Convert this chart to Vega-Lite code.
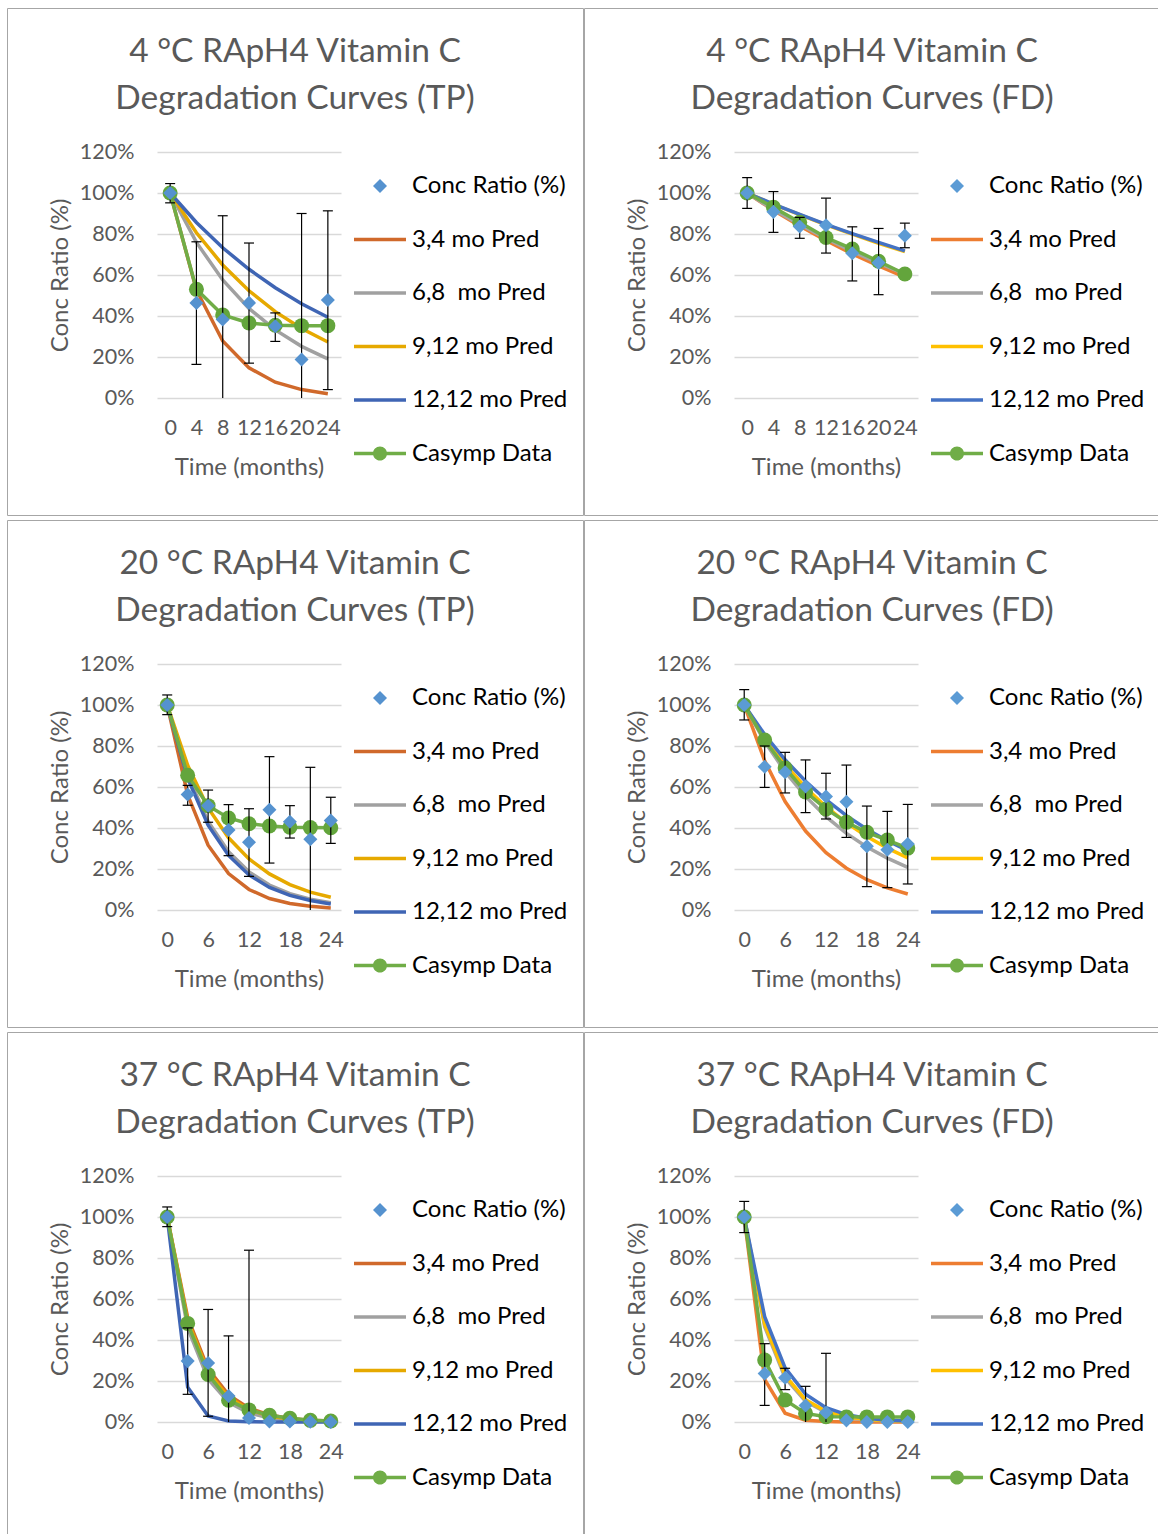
{
  "$schema": "https://vega.github.io/schema/vega-lite/v6.json",
  "background": "white",
  "padding": {"left": 6, "top": 7, "right": 0, "bottom": 0},
  "datasets": {
    "d": [
      {"p":"4TP","s":"3,4 mo Pred","t":0,"v":1},{"p":"4TP","s":"3,4 mo Pred","t":4,"v":0.527},{"p":"4TP","s":"3,4 mo Pred","t":8,"v":0.278},{"p":"4TP","s":"3,4 mo Pred","t":12,"v":0.147},{"p":"4TP","s":"3,4 mo Pred","t":16,"v":0.077},{"p":"4TP","s":"3,4 mo Pred","t":20,"v":0.041},{"p":"4TP","s":"3,4 mo Pred","t":24,"v":0.021},
      {"p":"4TP","s":"6,8\u00a0 mo Pred","t":0,"v":1},{"p":"4TP","s":"6,8\u00a0 mo Pred","t":4,"v":0.759},{"p":"4TP","s":"6,8\u00a0 mo Pred","t":8,"v":0.576},{"p":"4TP","s":"6,8\u00a0 mo Pred","t":12,"v":0.437},{"p":"4TP","s":"6,8\u00a0 mo Pred","t":16,"v":0.332},{"p":"4TP","s":"6,8\u00a0 mo Pred","t":20,"v":0.252},{"p":"4TP","s":"6,8\u00a0 mo Pred","t":24,"v":0.191},
      {"p":"4TP","s":"9,12 mo Pred","t":0,"v":1},{"p":"4TP","s":"9,12 mo Pred","t":4,"v":0.806},{"p":"4TP","s":"9,12 mo Pred","t":8,"v":0.649},{"p":"4TP","s":"9,12 mo Pred","t":12,"v":0.523},{"p":"4TP","s":"9,12 mo Pred","t":16,"v":0.421},{"p":"4TP","s":"9,12 mo Pred","t":20,"v":0.339},{"p":"4TP","s":"9,12 mo Pred","t":24,"v":0.273},
      {"p":"4TP","s":"12,12 mo Pred","t":0,"v":1},{"p":"4TP","s":"12,12 mo Pred","t":4,"v":0.856},{"p":"4TP","s":"12,12 mo Pred","t":8,"v":0.733},{"p":"4TP","s":"12,12 mo Pred","t":12,"v":0.628},{"p":"4TP","s":"12,12 mo Pred","t":16,"v":0.538},{"p":"4TP","s":"12,12 mo Pred","t":20,"v":0.46},{"p":"4TP","s":"12,12 mo Pred","t":24,"v":0.394},
      {"p":"4TP","s":"Casymp Data","t":0,"v":1},{"p":"4TP","s":"Casymp Data","t":4,"v":0.53},{"p":"4TP","s":"Casymp Data","t":8,"v":0.405},{"p":"4TP","s":"Casymp Data","t":12,"v":0.366},{"p":"4TP","s":"Casymp Data","t":16,"v":0.355},{"p":"4TP","s":"Casymp Data","t":20,"v":0.353},{"p":"4TP","s":"Casymp Data","t":24,"v":0.353},
      {"p":"4TP","s":"Conc Ratio (%)","t":0,"v":1,"lo":0.952,"hi":1.046},{"p":"4TP","s":"Conc Ratio (%)","t":4,"v":0.464,"lo":0.164,"hi":0.762},{"p":"4TP","s":"Conc Ratio (%)","t":8,"v":0.383,"lo":0,"hi":0.889},{"p":"4TP","s":"Conc Ratio (%)","t":12,"v":0.464,"lo":0.17,"hi":0.756},{"p":"4TP","s":"Conc Ratio (%)","t":16,"v":0.35,"lo":0.276,"hi":0.415},{"p":"4TP","s":"Conc Ratio (%)","t":20,"v":0.188,"lo":0,"hi":0.9},{"p":"4TP","s":"Conc Ratio (%)","t":24,"v":0.478,"lo":0.041,"hi":0.913},

      {"p":"4FD","s":"3,4 mo Pred","t":0,"v":1},{"p":"4FD","s":"3,4 mo Pred","t":4,"v":0.916},{"p":"4FD","s":"3,4 mo Pred","t":8,"v":0.839},{"p":"4FD","s":"3,4 mo Pred","t":12,"v":0.768},{"p":"4FD","s":"3,4 mo Pred","t":16,"v":0.703},{"p":"4FD","s":"3,4 mo Pred","t":20,"v":0.644},{"p":"4FD","s":"3,4 mo Pred","t":24,"v":0.589},
      {"p":"4FD","s":"6,8\u00a0 mo Pred","t":0,"v":1},{"p":"4FD","s":"6,8\u00a0 mo Pred","t":4,"v":0.919},{"p":"4FD","s":"6,8\u00a0 mo Pred","t":8,"v":0.846},{"p":"4FD","s":"6,8\u00a0 mo Pred","t":12,"v":0.778},{"p":"4FD","s":"6,8\u00a0 mo Pred","t":16,"v":0.715},{"p":"4FD","s":"6,8\u00a0 mo Pred","t":20,"v":0.658},{"p":"4FD","s":"6,8\u00a0 mo Pred","t":24,"v":0.605},
      {"p":"4FD","s":"9,12 mo Pred","t":0,"v":1},{"p":"4FD","s":"9,12 mo Pred","t":4,"v":0.945},{"p":"4FD","s":"9,12 mo Pred","t":8,"v":0.894},{"p":"4FD","s":"9,12 mo Pred","t":12,"v":0.845},{"p":"4FD","s":"9,12 mo Pred","t":16,"v":0.799},{"p":"4FD","s":"9,12 mo Pred","t":20,"v":0.755},{"p":"4FD","s":"9,12 mo Pred","t":24,"v":0.714},
      {"p":"4FD","s":"12,12 mo Pred","t":0,"v":1},{"p":"4FD","s":"12,12 mo Pred","t":4,"v":0.946},{"p":"4FD","s":"12,12 mo Pred","t":8,"v":0.896},{"p":"4FD","s":"12,12 mo Pred","t":12,"v":0.847},{"p":"4FD","s":"12,12 mo Pred","t":16,"v":0.802},{"p":"4FD","s":"12,12 mo Pred","t":20,"v":0.759},{"p":"4FD","s":"12,12 mo Pred","t":24,"v":0.718},
      {"p":"4FD","s":"Casymp Data","t":0,"v":1},{"p":"4FD","s":"Casymp Data","t":4,"v":0.93},{"p":"4FD","s":"Casymp Data","t":8,"v":0.857},{"p":"4FD","s":"Casymp Data","t":12,"v":0.783},{"p":"4FD","s":"Casymp Data","t":16,"v":0.727},{"p":"4FD","s":"Casymp Data","t":20,"v":0.667},{"p":"4FD","s":"Casymp Data","t":24,"v":0.605},
      {"p":"4FD","s":"Conc Ratio (%)","t":0,"v":1,"lo":0.925,"hi":1.075},{"p":"4FD","s":"Conc Ratio (%)","t":4,"v":0.908,"lo":0.808,"hi":1.007},{"p":"4FD","s":"Conc Ratio (%)","t":8,"v":0.837,"lo":0.779,"hi":0.881},{"p":"4FD","s":"Conc Ratio (%)","t":12,"v":0.843,"lo":0.707,"hi":0.975},{"p":"4FD","s":"Conc Ratio (%)","t":16,"v":0.706,"lo":0.571,"hi":0.835},{"p":"4FD","s":"Conc Ratio (%)","t":20,"v":0.66,"lo":0.504,"hi":0.827},{"p":"4FD","s":"Conc Ratio (%)","t":24,"v":0.792,"lo":0.733,"hi":0.853},

      {"p":"20TP","s":"3,4 mo Pred","t":0,"v":1},{"p":"20TP","s":"3,4 mo Pred","t":3,"v":0.562},{"p":"20TP","s":"3,4 mo Pred","t":6,"v":0.316},{"p":"20TP","s":"3,4 mo Pred","t":9,"v":0.178},{"p":"20TP","s":"3,4 mo Pred","t":12,"v":0.1},{"p":"20TP","s":"3,4 mo Pred","t":15,"v":0.056},{"p":"20TP","s":"3,4 mo Pred","t":18,"v":0.032},{"p":"20TP","s":"3,4 mo Pred","t":21,"v":0.018},{"p":"20TP","s":"3,4 mo Pred","t":24,"v":0.01},
      {"p":"20TP","s":"6,8\u00a0 mo Pred","t":0,"v":1},{"p":"20TP","s":"6,8\u00a0 mo Pred","t":3,"v":0.657},{"p":"20TP","s":"6,8\u00a0 mo Pred","t":6,"v":0.432},{"p":"20TP","s":"6,8\u00a0 mo Pred","t":9,"v":0.284},{"p":"20TP","s":"6,8\u00a0 mo Pred","t":12,"v":0.186},{"p":"20TP","s":"6,8\u00a0 mo Pred","t":15,"v":0.122},{"p":"20TP","s":"6,8\u00a0 mo Pred","t":18,"v":0.08},{"p":"20TP","s":"6,8\u00a0 mo Pred","t":21,"v":0.053},{"p":"20TP","s":"6,8\u00a0 mo Pred","t":24,"v":0.035},
      {"p":"20TP","s":"9,12 mo Pred","t":0,"v":1},{"p":"20TP","s":"9,12 mo Pred","t":3,"v":0.706},{"p":"20TP","s":"9,12 mo Pred","t":6,"v":0.498},{"p":"20TP","s":"9,12 mo Pred","t":9,"v":0.352},{"p":"20TP","s":"9,12 mo Pred","t":12,"v":0.249},{"p":"20TP","s":"9,12 mo Pred","t":15,"v":0.176},{"p":"20TP","s":"9,12 mo Pred","t":18,"v":0.124},{"p":"20TP","s":"9,12 mo Pred","t":21,"v":0.087},{"p":"20TP","s":"9,12 mo Pred","t":24,"v":0.062},
      {"p":"20TP","s":"12,12 mo Pred","t":0,"v":1},{"p":"20TP","s":"12,12 mo Pred","t":3,"v":0.643},{"p":"20TP","s":"12,12 mo Pred","t":6,"v":0.414},{"p":"20TP","s":"12,12 mo Pred","t":9,"v":0.266},{"p":"20TP","s":"12,12 mo Pred","t":12,"v":0.171},{"p":"20TP","s":"12,12 mo Pred","t":15,"v":0.11},{"p":"20TP","s":"12,12 mo Pred","t":18,"v":0.071},{"p":"20TP","s":"12,12 mo Pred","t":21,"v":0.046},{"p":"20TP","s":"12,12 mo Pred","t":24,"v":0.029},
      {"p":"20TP","s":"Casymp Data","t":0,"v":1},{"p":"20TP","s":"Casymp Data","t":3,"v":0.657},{"p":"20TP","s":"Casymp Data","t":6,"v":0.509},{"p":"20TP","s":"Casymp Data","t":9,"v":0.449},{"p":"20TP","s":"Casymp Data","t":12,"v":0.421},{"p":"20TP","s":"Casymp Data","t":15,"v":0.41},{"p":"20TP","s":"Casymp Data","t":18,"v":0.404},{"p":"20TP","s":"Casymp Data","t":21,"v":0.402},{"p":"20TP","s":"Casymp Data","t":24,"v":0.401},
      {"p":"20TP","s":"Conc Ratio (%)","t":0,"v":1,"lo":0.953,"hi":1.049},{"p":"20TP","s":"Conc Ratio (%)","t":3,"v":0.563,"lo":0.511,"hi":0.608},{"p":"20TP","s":"Conc Ratio (%)","t":6,"v":0.509,"lo":0.428,"hi":0.585},{"p":"20TP","s":"Conc Ratio (%)","t":9,"v":0.39,"lo":0.265,"hi":0.514},{"p":"20TP","s":"Conc Ratio (%)","t":12,"v":0.33,"lo":0.164,"hi":0.494},{"p":"20TP","s":"Conc Ratio (%)","t":15,"v":0.489,"lo":0.229,"hi":0.748},{"p":"20TP","s":"Conc Ratio (%)","t":18,"v":0.431,"lo":0.351,"hi":0.509},{"p":"20TP","s":"Conc Ratio (%)","t":21,"v":0.345,"lo":0,"hi":0.696},{"p":"20TP","s":"Conc Ratio (%)","t":24,"v":0.436,"lo":0.325,"hi":0.55},

      {"p":"20FD","s":"3,4 mo Pred","t":0,"v":1},{"p":"20FD","s":"3,4 mo Pred","t":3,"v":0.728},{"p":"20FD","s":"3,4 mo Pred","t":6,"v":0.529},{"p":"20FD","s":"3,4 mo Pred","t":9,"v":0.385},{"p":"20FD","s":"3,4 mo Pred","t":12,"v":0.28},{"p":"20FD","s":"3,4 mo Pred","t":15,"v":0.204},{"p":"20FD","s":"3,4 mo Pred","t":18,"v":0.148},{"p":"20FD","s":"3,4 mo Pred","t":21,"v":0.108},{"p":"20FD","s":"3,4 mo Pred","t":24,"v":0.078},
      {"p":"20FD","s":"6,8\u00a0 mo Pred","t":0,"v":1},{"p":"20FD","s":"6,8\u00a0 mo Pred","t":3,"v":0.821},{"p":"20FD","s":"6,8\u00a0 mo Pred","t":6,"v":0.675},{"p":"20FD","s":"6,8\u00a0 mo Pred","t":9,"v":0.554},{"p":"20FD","s":"6,8\u00a0 mo Pred","t":12,"v":0.455},{"p":"20FD","s":"6,8\u00a0 mo Pred","t":15,"v":0.374},{"p":"20FD","s":"6,8\u00a0 mo Pred","t":18,"v":0.307},{"p":"20FD","s":"6,8\u00a0 mo Pred","t":21,"v":0.253},{"p":"20FD","s":"6,8\u00a0 mo Pred","t":24,"v":0.208},
      {"p":"20FD","s":"9,12 mo Pred","t":0,"v":1},{"p":"20FD","s":"9,12 mo Pred","t":3,"v":0.843},{"p":"20FD","s":"9,12 mo Pred","t":6,"v":0.71},{"p":"20FD","s":"9,12 mo Pred","t":9,"v":0.598},{"p":"20FD","s":"9,12 mo Pred","t":12,"v":0.504},{"p":"20FD","s":"9,12 mo Pred","t":15,"v":0.425},{"p":"20FD","s":"9,12 mo Pred","t":18,"v":0.358},{"p":"20FD","s":"9,12 mo Pred","t":21,"v":0.302},{"p":"20FD","s":"9,12 mo Pred","t":24,"v":0.254},
      {"p":"20FD","s":"12,12 mo Pred","t":0,"v":1},{"p":"20FD","s":"12,12 mo Pred","t":3,"v":0.856},{"p":"20FD","s":"12,12 mo Pred","t":6,"v":0.733},{"p":"20FD","s":"12,12 mo Pred","t":9,"v":0.628},{"p":"20FD","s":"12,12 mo Pred","t":12,"v":0.538},{"p":"20FD","s":"12,12 mo Pred","t":15,"v":0.46},{"p":"20FD","s":"12,12 mo Pred","t":18,"v":0.394},{"p":"20FD","s":"12,12 mo Pred","t":21,"v":0.338},{"p":"20FD","s":"12,12 mo Pred","t":24,"v":0.289},
      {"p":"20FD","s":"Casymp Data","t":0,"v":1},{"p":"20FD","s":"Casymp Data","t":3,"v":0.829},{"p":"20FD","s":"Casymp Data","t":6,"v":0.693},{"p":"20FD","s":"Casymp Data","t":9,"v":0.576},{"p":"20FD","s":"Casymp Data","t":12,"v":0.493},{"p":"20FD","s":"Casymp Data","t":15,"v":0.428},{"p":"20FD","s":"Casymp Data","t":18,"v":0.379},{"p":"20FD","s":"Casymp Data","t":21,"v":0.341},{"p":"20FD","s":"Casymp Data","t":24,"v":0.302},
      {"p":"20FD","s":"Conc Ratio (%)","t":0,"v":1,"lo":0.927,"hi":1.075},{"p":"20FD","s":"Conc Ratio (%)","t":3,"v":0.699,"lo":0.598,"hi":0.8},{"p":"20FD","s":"Conc Ratio (%)","t":6,"v":0.672,"lo":0.571,"hi":0.769},{"p":"20FD","s":"Conc Ratio (%)","t":9,"v":0.603,"lo":0.475,"hi":0.732},{"p":"20FD","s":"Conc Ratio (%)","t":12,"v":0.554,"lo":0.444,"hi":0.667},{"p":"20FD","s":"Conc Ratio (%)","t":15,"v":0.528,"lo":0.354,"hi":0.707},{"p":"20FD","s":"Conc Ratio (%)","t":18,"v":0.311,"lo":0.114,"hi":0.507},{"p":"20FD","s":"Conc Ratio (%)","t":21,"v":0.294,"lo":0.109,"hi":0.481},{"p":"20FD","s":"Conc Ratio (%)","t":24,"v":0.322,"lo":0.127,"hi":0.515},

      {"p":"37TP","s":"3,4 mo Pred","t":0,"v":1},{"p":"37TP","s":"3,4 mo Pred","t":3,"v":0.509},{"p":"37TP","s":"3,4 mo Pred","t":6,"v":0.259},{"p":"37TP","s":"3,4 mo Pred","t":9,"v":0.132},{"p":"37TP","s":"3,4 mo Pred","t":12,"v":0.067},{"p":"37TP","s":"3,4 mo Pred","t":15,"v":0.034},{"p":"37TP","s":"3,4 mo Pred","t":18,"v":0.017},{"p":"37TP","s":"3,4 mo Pred","t":21,"v":0.009},{"p":"37TP","s":"3,4 mo Pred","t":24,"v":0.005},
      {"p":"37TP","s":"6,8\u00a0 mo Pred","t":0,"v":1},{"p":"37TP","s":"6,8\u00a0 mo Pred","t":3,"v":0.458},{"p":"37TP","s":"6,8\u00a0 mo Pred","t":6,"v":0.21},{"p":"37TP","s":"6,8\u00a0 mo Pred","t":9,"v":0.096},{"p":"37TP","s":"6,8\u00a0 mo Pred","t":12,"v":0.044},{"p":"37TP","s":"6,8\u00a0 mo Pred","t":15,"v":0.02},{"p":"37TP","s":"6,8\u00a0 mo Pred","t":18,"v":0.009},{"p":"37TP","s":"6,8\u00a0 mo Pred","t":21,"v":0.004},{"p":"37TP","s":"6,8\u00a0 mo Pred","t":24,"v":0.002},
      {"p":"37TP","s":"9,12 mo Pred","t":0,"v":1},{"p":"37TP","s":"9,12 mo Pred","t":3,"v":0.494},{"p":"37TP","s":"9,12 mo Pred","t":6,"v":0.244},{"p":"37TP","s":"9,12 mo Pred","t":9,"v":0.121},{"p":"37TP","s":"9,12 mo Pred","t":12,"v":0.06},{"p":"37TP","s":"9,12 mo Pred","t":15,"v":0.029},{"p":"37TP","s":"9,12 mo Pred","t":18,"v":0.015},{"p":"37TP","s":"9,12 mo Pred","t":21,"v":0.007},{"p":"37TP","s":"9,12 mo Pred","t":24,"v":0.004},
      {"p":"37TP","s":"12,12 mo Pred","t":0,"v":1},{"p":"37TP","s":"12,12 mo Pred","t":3,"v":0.17},{"p":"37TP","s":"12,12 mo Pred","t":6,"v":0.029},{"p":"37TP","s":"12,12 mo Pred","t":9,"v":0.005},{"p":"37TP","s":"12,12 mo Pred","t":12,"v":0.001},{"p":"37TP","s":"12,12 mo Pred","t":15,"v":0},{"p":"37TP","s":"12,12 mo Pred","t":18,"v":0},{"p":"37TP","s":"12,12 mo Pred","t":21,"v":0},{"p":"37TP","s":"12,12 mo Pred","t":24,"v":0},
      {"p":"37TP","s":"Casymp Data","t":0,"v":1},{"p":"37TP","s":"Casymp Data","t":3,"v":0.481},{"p":"37TP","s":"Casymp Data","t":6,"v":0.232},{"p":"37TP","s":"Casymp Data","t":9,"v":0.106},{"p":"37TP","s":"Casymp Data","t":12,"v":0.059},{"p":"37TP","s":"Casymp Data","t":15,"v":0.033},{"p":"37TP","s":"Casymp Data","t":18,"v":0.018},{"p":"37TP","s":"Casymp Data","t":21,"v":0.008},{"p":"37TP","s":"Casymp Data","t":24,"v":0.005},
      {"p":"37TP","s":"Conc Ratio (%)","t":0,"v":1,"lo":0.953,"hi":1.049},{"p":"37TP","s":"Conc Ratio (%)","t":3,"v":0.297,"lo":0.135,"hi":0.459},{"p":"37TP","s":"Conc Ratio (%)","t":6,"v":0.288,"lo":0.028,"hi":0.549},{"p":"37TP","s":"Conc Ratio (%)","t":9,"v":0.127,"lo":0,"hi":0.42},{"p":"37TP","s":"Conc Ratio (%)","t":12,"v":0.02,"lo":0,"hi":0.838},{"p":"37TP","s":"Conc Ratio (%)","t":15,"v":0.002},{"p":"37TP","s":"Conc Ratio (%)","t":18,"v":0.002},{"p":"37TP","s":"Conc Ratio (%)","t":21,"v":0.001},{"p":"37TP","s":"Conc Ratio (%)","t":24,"v":0},

      {"p":"37FD","s":"3,4 mo Pred","t":0,"v":1},{"p":"37FD","s":"3,4 mo Pred","t":3,"v":0.208},{"p":"37FD","s":"3,4 mo Pred","t":6,"v":0.043},{"p":"37FD","s":"3,4 mo Pred","t":9,"v":0.009},{"p":"37FD","s":"3,4 mo Pred","t":12,"v":0.002},{"p":"37FD","s":"3,4 mo Pred","t":15,"v":0},{"p":"37FD","s":"3,4 mo Pred","t":18,"v":0},{"p":"37FD","s":"3,4 mo Pred","t":21,"v":0},{"p":"37FD","s":"3,4 mo Pred","t":24,"v":0},
      {"p":"37FD","s":"6,8\u00a0 mo Pred","t":0,"v":1},{"p":"37FD","s":"6,8\u00a0 mo Pred","t":3,"v":0.465},{"p":"37FD","s":"6,8\u00a0 mo Pred","t":6,"v":0.216},{"p":"37FD","s":"6,8\u00a0 mo Pred","t":9,"v":0.101},{"p":"37FD","s":"6,8\u00a0 mo Pred","t":12,"v":0.047},{"p":"37FD","s":"6,8\u00a0 mo Pred","t":15,"v":0.022},{"p":"37FD","s":"6,8\u00a0 mo Pred","t":18,"v":0.01},{"p":"37FD","s":"6,8\u00a0 mo Pred","t":21,"v":0.005},{"p":"37FD","s":"6,8\u00a0 mo Pred","t":24,"v":0.002},
      {"p":"37FD","s":"9,12 mo Pred","t":0,"v":1},{"p":"37FD","s":"9,12 mo Pred","t":3,"v":0.477},{"p":"37FD","s":"9,12 mo Pred","t":6,"v":0.227},{"p":"37FD","s":"9,12 mo Pred","t":9,"v":0.108},{"p":"37FD","s":"9,12 mo Pred","t":12,"v":0.052},{"p":"37FD","s":"9,12 mo Pred","t":15,"v":0.025},{"p":"37FD","s":"9,12 mo Pred","t":18,"v":0.012},{"p":"37FD","s":"9,12 mo Pred","t":21,"v":0.006},{"p":"37FD","s":"9,12 mo Pred","t":24,"v":0.003},
      {"p":"37FD","s":"12,12 mo Pred","t":0,"v":1},{"p":"37FD","s":"12,12 mo Pred","t":3,"v":0.514},{"p":"37FD","s":"12,12 mo Pred","t":6,"v":0.264},{"p":"37FD","s":"12,12 mo Pred","t":9,"v":0.136},{"p":"37FD","s":"12,12 mo Pred","t":12,"v":0.07},{"p":"37FD","s":"12,12 mo Pred","t":15,"v":0.036},{"p":"37FD","s":"12,12 mo Pred","t":18,"v":0.018},{"p":"37FD","s":"12,12 mo Pred","t":21,"v":0.009},{"p":"37FD","s":"12,12 mo Pred","t":24,"v":0.005},
      {"p":"37FD","s":"Casymp Data","t":0,"v":1},{"p":"37FD","s":"Casymp Data","t":3,"v":0.302},{"p":"37FD","s":"Casymp Data","t":6,"v":0.107},{"p":"37FD","s":"Casymp Data","t":9,"v":0.042},{"p":"37FD","s":"Casymp Data","t":12,"v":0.026},{"p":"37FD","s":"Casymp Data","t":15,"v":0.025},{"p":"37FD","s":"Casymp Data","t":18,"v":0.025},{"p":"37FD","s":"Casymp Data","t":21,"v":0.025},{"p":"37FD","s":"Casymp Data","t":24,"v":0.025},
      {"p":"37FD","s":"Conc Ratio (%)","t":0,"v":1,"lo":0.924,"hi":1.076},{"p":"37FD","s":"Conc Ratio (%)","t":3,"v":0.236,"lo":0.081,"hi":0.382},{"p":"37FD","s":"Conc Ratio (%)","t":6,"v":0.216,"lo":0.158,"hi":0.262},{"p":"37FD","s":"Conc Ratio (%)","t":9,"v":0.081,"lo":0,"hi":0.174},{"p":"37FD","s":"Conc Ratio (%)","t":12,"v":0.046,"lo":0,"hi":0.335},{"p":"37FD","s":"Conc Ratio (%)","t":15,"v":0.008},{"p":"37FD","s":"Conc Ratio (%)","t":18,"v":0},{"p":"37FD","s":"Conc Ratio (%)","t":21,"v":0},{"p":"37FD","s":"Conc Ratio (%)","t":24,"v":0}
    ]
  },
  "data": {"name": "d"},
  "columns": 2,
  "spacing": {"row": 3, "column": -2},
  "resolve": {
    "scale": {"x": "independent", "y": "independent", "color": "independent", "shape": "independent"},
    "legend": {"color": "independent", "shape": "independent"}
  },
  "concat": [
    {
      "width": 576, "height": 507,
      "title": {"text": ["4 °C RApH4 Vitamin C", "Degradation Curves (TP)"]},
      "transform": [{"filter": "datum.p == '4TP'"}],
      "encoding": {
        "x": {"field": "t", "type": "quantitative", "scale": {"domain": [-2, 26], "range": [150, 334], "nice": false, "zero": false}, "axis": {"values": [0, 4, 8, 12, 16, 20, 24], "title": "Time (months)", "offset": -117, "grid": false, "labelPadding": 19, "titlePadding": 17}},
        "y": {"field": "v", "type": "quantitative", "scale": {"domain": [0, 1.2], "range": [390, 144], "nice": false, "zero": false}, "axis": {"values": [0, 0.2, 0.4, 0.6, 0.8, 1, 1.2], "format": ".0%", "title": "Conc Ratio (%)", "offset": -150, "grid": true, "labelPadding": 23, "titlePadding": 7}}
      },
      "layer": [
        {"transform": [{"filter": "datum.s != 'Conc Ratio (%)'"}], "mark": {"type": "line", "strokeWidth": 3.5},
         "encoding": {"color": {"field": "s", "type": "nominal", "scale": {"domain": ["Conc Ratio (%)", "3,4 mo Pred", "6,8\u00a0 mo Pred", "9,12 mo Pred", "12,12 mo Pred", "Casymp Data"], "range": ["#5592CF", "#D0692B", "#A0A0A0", "#E6A900", "#3F65B4", "#70AD47"]}, "legend": {"title": null, "orient": "none", "legendX": 347, "legendY": 152}}}},
        {"transform": [{"filter": "datum.s == 'Casymp Data'"}], "mark": {"type": "point", "shape": "circle", "filled": true, "size": 225, "opacity": 1, "color": "#63A53C"}},
        {"transform": [{"filter": "isValid(datum.hi)"}], "mark": {"type": "rule", "color": "black", "strokeWidth": 1.2}, "encoding": {"y": {"field": "lo", "type": "quantitative"}, "y2": {"field": "hi"}}},
        {"transform": [{"filter": "isValid(datum.lo) && datum.lo > 0"}], "mark": {"type": "point", "shape": "stroke", "filled": false, "size": 100, "color": "black", "strokeWidth": 1.2, "opacity": 1}, "encoding": {"y": {"field": "lo", "type": "quantitative"}}},
        {"transform": [{"filter": "isValid(datum.hi)"}], "mark": {"type": "point", "shape": "stroke", "filled": false, "size": 100, "color": "black", "strokeWidth": 1.2, "opacity": 1}, "encoding": {"y": {"field": "hi", "type": "quantitative"}}},
        {"transform": [{"filter": "datum.s == 'Conc Ratio (%)'"}], "mark": {"type": "point", "filled": true, "size": 2704, "opacity": 1},
         "encoding": {
           "color": {"field": "s", "type": "nominal", "scale": {"domain": ["Conc Ratio (%)", "3,4 mo Pred", "6,8\u00a0 mo Pred", "9,12 mo Pred", "12,12 mo Pred", "Casymp Data"], "range": ["#5592CF", "#D0692B", "#A0A0A0", "#E6A900", "#3F65B4", "#70AD47"]}, "legend": {"title": null, "orient": "none", "legendX": 347, "legendY": 152}},
           "shape": {"field": "s", "type": "nominal", "scale": {"domain": ["Conc Ratio (%)", "3,4 mo Pred", "6,8\u00a0 mo Pred", "9,12 mo Pred", "12,12 mo Pred", "Casymp Data"], "range": ["M0,-0.27L0.27,0L0,0.27L-0.27,0Z", "M-1,-0.065H1V0.065H-1Z", "M-1,-0.065H1V0.065H-1Z", "M-1,-0.065H1V0.065H-1Z", "M-1,-0.065H1V0.065H-1Z", "M-1,-0.065H1V0.065H-1Z M0.27,0A0.27,0.27,0,1,1,-0.27,0A0.27,0.27,0,1,1,0.27,0Z"]}, "legend": {"title": null, "orient": "none", "legendX": 347, "legendY": 152}}
         }}
      ]
    },
    {
      "width": 576, "height": 507,
      "title": {"text": ["4 °C RApH4 Vitamin C", "Degradation Curves (FD)"]},
      "transform": [{"filter": "datum.p == '4FD'"}],
      "encoding": {
        "x": {"field": "t", "type": "quantitative", "scale": {"domain": [-2, 26], "range": [150, 334], "nice": false, "zero": false}, "axis": {"values": [0, 4, 8, 12, 16, 20, 24], "title": "Time (months)", "offset": -117, "grid": false, "labelPadding": 19, "titlePadding": 17}},
        "y": {"field": "v", "type": "quantitative", "scale": {"domain": [0, 1.2], "range": [390, 144], "nice": false, "zero": false}, "axis": {"values": [0, 0.2, 0.4, 0.6, 0.8, 1, 1.2], "format": ".0%", "title": "Conc Ratio (%)", "offset": -150, "grid": true, "labelPadding": 23, "titlePadding": 7}}
      },
      "layer": [
        {"transform": [{"filter": "datum.s != 'Conc Ratio (%)'"}], "mark": {"type": "line", "strokeWidth": 3.5},
         "encoding": {"color": {"field": "s", "type": "nominal", "scale": {"domain": ["Conc Ratio (%)", "3,4 mo Pred", "6,8\u00a0 mo Pred", "9,12 mo Pred", "12,12 mo Pred", "Casymp Data"], "range": ["#5B9BD5", "#ED7D31", "#A5A5A5", "#FFC000", "#4472C4", "#70AD47"]}, "legend": {"title": null, "orient": "none", "legendX": 347, "legendY": 152}}}},
        {"transform": [{"filter": "datum.s == 'Casymp Data'"}], "mark": {"type": "point", "shape": "circle", "filled": true, "size": 225, "opacity": 1, "color": "#63A53C"}},
        {"transform": [{"filter": "isValid(datum.hi)"}], "mark": {"type": "rule", "color": "black", "strokeWidth": 1.2}, "encoding": {"y": {"field": "lo", "type": "quantitative"}, "y2": {"field": "hi"}}},
        {"transform": [{"filter": "isValid(datum.lo) && datum.lo > 0"}], "mark": {"type": "point", "shape": "stroke", "filled": false, "size": 100, "color": "black", "strokeWidth": 1.2, "opacity": 1}, "encoding": {"y": {"field": "lo", "type": "quantitative"}}},
        {"transform": [{"filter": "isValid(datum.hi)"}], "mark": {"type": "point", "shape": "stroke", "filled": false, "size": 100, "color": "black", "strokeWidth": 1.2, "opacity": 1}, "encoding": {"y": {"field": "hi", "type": "quantitative"}}},
        {"transform": [{"filter": "datum.s == 'Conc Ratio (%)'"}], "mark": {"type": "point", "filled": true, "size": 2704, "opacity": 1},
         "encoding": {
           "color": {"field": "s", "type": "nominal", "scale": {"domain": ["Conc Ratio (%)", "3,4 mo Pred", "6,8\u00a0 mo Pred", "9,12 mo Pred", "12,12 mo Pred", "Casymp Data"], "range": ["#5B9BD5", "#ED7D31", "#A5A5A5", "#FFC000", "#4472C4", "#70AD47"]}, "legend": {"title": null, "orient": "none", "legendX": 347, "legendY": 152}},
           "shape": {"field": "s", "type": "nominal", "scale": {"domain": ["Conc Ratio (%)", "3,4 mo Pred", "6,8\u00a0 mo Pred", "9,12 mo Pred", "12,12 mo Pred", "Casymp Data"], "range": ["M0,-0.27L0.27,0L0,0.27L-0.27,0Z", "M-1,-0.065H1V0.065H-1Z", "M-1,-0.065H1V0.065H-1Z", "M-1,-0.065H1V0.065H-1Z", "M-1,-0.065H1V0.065H-1Z", "M-1,-0.065H1V0.065H-1Z M0.27,0A0.27,0.27,0,1,1,-0.27,0A0.27,0.27,0,1,1,0.27,0Z"]}, "legend": {"title": null, "orient": "none", "legendX": 347, "legendY": 152}}
         }}
      ]
    },
    {
      "width": 576, "height": 507,
      "title": {"text": ["20 °C RApH4 Vitamin C", "Degradation Curves (TP)"]},
      "transform": [{"filter": "datum.p == '20TP'"}],
      "encoding": {
        "x": {"field": "t", "type": "quantitative", "scale": {"domain": [-1.5, 25.5], "range": [150, 334], "nice": false, "zero": false}, "axis": {"values": [0, 6, 12, 18, 24], "title": "Time (months)", "offset": -117, "grid": false, "labelPadding": 19, "titlePadding": 17}},
        "y": {"field": "v", "type": "quantitative", "scale": {"domain": [0, 1.2], "range": [390, 144], "nice": false, "zero": false}, "axis": {"values": [0, 0.2, 0.4, 0.6, 0.8, 1, 1.2], "format": ".0%", "title": "Conc Ratio (%)", "offset": -150, "grid": true, "labelPadding": 23, "titlePadding": 7}}
      },
      "layer": [
        {"transform": [{"filter": "datum.s != 'Conc Ratio (%)'"}], "mark": {"type": "line", "strokeWidth": 3.5},
         "encoding": {"color": {"field": "s", "type": "nominal", "scale": {"domain": ["Conc Ratio (%)", "3,4 mo Pred", "6,8\u00a0 mo Pred", "9,12 mo Pred", "12,12 mo Pred", "Casymp Data"], "range": ["#5592CF", "#D0692B", "#A0A0A0", "#E6A900", "#3F65B4", "#70AD47"]}, "legend": {"title": null, "orient": "none", "legendX": 347, "legendY": 152}}}},
        {"transform": [{"filter": "datum.s == 'Casymp Data'"}], "mark": {"type": "point", "shape": "circle", "filled": true, "size": 225, "opacity": 1, "color": "#63A53C"}},
        {"transform": [{"filter": "isValid(datum.hi)"}], "mark": {"type": "rule", "color": "black", "strokeWidth": 1.2}, "encoding": {"y": {"field": "lo", "type": "quantitative"}, "y2": {"field": "hi"}}},
        {"transform": [{"filter": "isValid(datum.lo) && datum.lo > 0"}], "mark": {"type": "point", "shape": "stroke", "filled": false, "size": 100, "color": "black", "strokeWidth": 1.2, "opacity": 1}, "encoding": {"y": {"field": "lo", "type": "quantitative"}}},
        {"transform": [{"filter": "isValid(datum.hi)"}], "mark": {"type": "point", "shape": "stroke", "filled": false, "size": 100, "color": "black", "strokeWidth": 1.2, "opacity": 1}, "encoding": {"y": {"field": "hi", "type": "quantitative"}}},
        {"transform": [{"filter": "datum.s == 'Conc Ratio (%)'"}], "mark": {"type": "point", "filled": true, "size": 2704, "opacity": 1},
         "encoding": {
           "color": {"field": "s", "type": "nominal", "scale": {"domain": ["Conc Ratio (%)", "3,4 mo Pred", "6,8\u00a0 mo Pred", "9,12 mo Pred", "12,12 mo Pred", "Casymp Data"], "range": ["#5592CF", "#D0692B", "#A0A0A0", "#E6A900", "#3F65B4", "#70AD47"]}, "legend": {"title": null, "orient": "none", "legendX": 347, "legendY": 152}},
           "shape": {"field": "s", "type": "nominal", "scale": {"domain": ["Conc Ratio (%)", "3,4 mo Pred", "6,8\u00a0 mo Pred", "9,12 mo Pred", "12,12 mo Pred", "Casymp Data"], "range": ["M0,-0.27L0.27,0L0,0.27L-0.27,0Z", "M-1,-0.065H1V0.065H-1Z", "M-1,-0.065H1V0.065H-1Z", "M-1,-0.065H1V0.065H-1Z", "M-1,-0.065H1V0.065H-1Z", "M-1,-0.065H1V0.065H-1Z M0.27,0A0.27,0.27,0,1,1,-0.27,0A0.27,0.27,0,1,1,0.27,0Z"]}, "legend": {"title": null, "orient": "none", "legendX": 347, "legendY": 152}}
         }}
      ]
    },
    {
      "width": 576, "height": 507,
      "title": {"text": ["20 °C RApH4 Vitamin C", "Degradation Curves (FD)"]},
      "transform": [{"filter": "datum.p == '20FD'"}],
      "encoding": {
        "x": {"field": "t", "type": "quantitative", "scale": {"domain": [-1.5, 25.5], "range": [150, 334], "nice": false, "zero": false}, "axis": {"values": [0, 6, 12, 18, 24], "title": "Time (months)", "offset": -117, "grid": false, "labelPadding": 19, "titlePadding": 17}},
        "y": {"field": "v", "type": "quantitative", "scale": {"domain": [0, 1.2], "range": [390, 144], "nice": false, "zero": false}, "axis": {"values": [0, 0.2, 0.4, 0.6, 0.8, 1, 1.2], "format": ".0%", "title": "Conc Ratio (%)", "offset": -150, "grid": true, "labelPadding": 23, "titlePadding": 7}}
      },
      "layer": [
        {"transform": [{"filter": "datum.s != 'Conc Ratio (%)'"}], "mark": {"type": "line", "strokeWidth": 3.5},
         "encoding": {"color": {"field": "s", "type": "nominal", "scale": {"domain": ["Conc Ratio (%)", "3,4 mo Pred", "6,8\u00a0 mo Pred", "9,12 mo Pred", "12,12 mo Pred", "Casymp Data"], "range": ["#5B9BD5", "#ED7D31", "#A5A5A5", "#FFC000", "#4472C4", "#70AD47"]}, "legend": {"title": null, "orient": "none", "legendX": 347, "legendY": 152}}}},
        {"transform": [{"filter": "datum.s == 'Casymp Data'"}], "mark": {"type": "point", "shape": "circle", "filled": true, "size": 225, "opacity": 1, "color": "#63A53C"}},
        {"transform": [{"filter": "isValid(datum.hi)"}], "mark": {"type": "rule", "color": "black", "strokeWidth": 1.2}, "encoding": {"y": {"field": "lo", "type": "quantitative"}, "y2": {"field": "hi"}}},
        {"transform": [{"filter": "isValid(datum.lo) && datum.lo > 0"}], "mark": {"type": "point", "shape": "stroke", "filled": false, "size": 100, "color": "black", "strokeWidth": 1.2, "opacity": 1}, "encoding": {"y": {"field": "lo", "type": "quantitative"}}},
        {"transform": [{"filter": "isValid(datum.hi)"}], "mark": {"type": "point", "shape": "stroke", "filled": false, "size": 100, "color": "black", "strokeWidth": 1.2, "opacity": 1}, "encoding": {"y": {"field": "hi", "type": "quantitative"}}},
        {"transform": [{"filter": "datum.s == 'Conc Ratio (%)'"}], "mark": {"type": "point", "filled": true, "size": 2704, "opacity": 1},
         "encoding": {
           "color": {"field": "s", "type": "nominal", "scale": {"domain": ["Conc Ratio (%)", "3,4 mo Pred", "6,8\u00a0 mo Pred", "9,12 mo Pred", "12,12 mo Pred", "Casymp Data"], "range": ["#5B9BD5", "#ED7D31", "#A5A5A5", "#FFC000", "#4472C4", "#70AD47"]}, "legend": {"title": null, "orient": "none", "legendX": 347, "legendY": 152}},
           "shape": {"field": "s", "type": "nominal", "scale": {"domain": ["Conc Ratio (%)", "3,4 mo Pred", "6,8\u00a0 mo Pred", "9,12 mo Pred", "12,12 mo Pred", "Casymp Data"], "range": ["M0,-0.27L0.27,0L0,0.27L-0.27,0Z", "M-1,-0.065H1V0.065H-1Z", "M-1,-0.065H1V0.065H-1Z", "M-1,-0.065H1V0.065H-1Z", "M-1,-0.065H1V0.065H-1Z", "M-1,-0.065H1V0.065H-1Z M0.27,0A0.27,0.27,0,1,1,-0.27,0A0.27,0.27,0,1,1,0.27,0Z"]}, "legend": {"title": null, "orient": "none", "legendX": 347, "legendY": 152}}
         }}
      ]
    },
    {
      "width": 576, "height": 507,
      "title": {"text": ["37 °C RApH4 Vitamin C", "Degradation Curves (TP)"]},
      "transform": [{"filter": "datum.p == '37TP'"}],
      "encoding": {
        "x": {"field": "t", "type": "quantitative", "scale": {"domain": [-1.5, 25.5], "range": [150, 334], "nice": false, "zero": false}, "axis": {"values": [0, 6, 12, 18, 24], "title": "Time (months)", "offset": -117, "grid": false, "labelPadding": 19, "titlePadding": 17}},
        "y": {"field": "v", "type": "quantitative", "scale": {"domain": [0, 1.2], "range": [390, 144], "nice": false, "zero": false}, "axis": {"values": [0, 0.2, 0.4, 0.6, 0.8, 1, 1.2], "format": ".0%", "title": "Conc Ratio (%)", "offset": -150, "grid": true, "labelPadding": 23, "titlePadding": 7}}
      },
      "layer": [
        {"transform": [{"filter": "datum.s != 'Conc Ratio (%)'"}], "mark": {"type": "line", "strokeWidth": 3.5},
         "encoding": {"color": {"field": "s", "type": "nominal", "scale": {"domain": ["Conc Ratio (%)", "3,4 mo Pred", "6,8\u00a0 mo Pred", "9,12 mo Pred", "12,12 mo Pred", "Casymp Data"], "range": ["#5592CF", "#D0692B", "#A0A0A0", "#E6A900", "#3F65B4", "#70AD47"]}, "legend": {"title": null, "orient": "none", "legendX": 347, "legendY": 152}}}},
        {"transform": [{"filter": "datum.s == 'Casymp Data'"}], "mark": {"type": "point", "shape": "circle", "filled": true, "size": 225, "opacity": 1, "color": "#63A53C"}},
        {"transform": [{"filter": "isValid(datum.hi)"}], "mark": {"type": "rule", "color": "black", "strokeWidth": 1.2}, "encoding": {"y": {"field": "lo", "type": "quantitative"}, "y2": {"field": "hi"}}},
        {"transform": [{"filter": "isValid(datum.lo) && datum.lo > 0"}], "mark": {"type": "point", "shape": "stroke", "filled": false, "size": 100, "color": "black", "strokeWidth": 1.2, "opacity": 1}, "encoding": {"y": {"field": "lo", "type": "quantitative"}}},
        {"transform": [{"filter": "isValid(datum.hi)"}], "mark": {"type": "point", "shape": "stroke", "filled": false, "size": 100, "color": "black", "strokeWidth": 1.2, "opacity": 1}, "encoding": {"y": {"field": "hi", "type": "quantitative"}}},
        {"transform": [{"filter": "datum.s == 'Conc Ratio (%)'"}], "mark": {"type": "point", "filled": true, "size": 2704, "opacity": 1},
         "encoding": {
           "color": {"field": "s", "type": "nominal", "scale": {"domain": ["Conc Ratio (%)", "3,4 mo Pred", "6,8\u00a0 mo Pred", "9,12 mo Pred", "12,12 mo Pred", "Casymp Data"], "range": ["#5592CF", "#D0692B", "#A0A0A0", "#E6A900", "#3F65B4", "#70AD47"]}, "legend": {"title": null, "orient": "none", "legendX": 347, "legendY": 152}},
           "shape": {"field": "s", "type": "nominal", "scale": {"domain": ["Conc Ratio (%)", "3,4 mo Pred", "6,8\u00a0 mo Pred", "9,12 mo Pred", "12,12 mo Pred", "Casymp Data"], "range": ["M0,-0.27L0.27,0L0,0.27L-0.27,0Z", "M-1,-0.065H1V0.065H-1Z", "M-1,-0.065H1V0.065H-1Z", "M-1,-0.065H1V0.065H-1Z", "M-1,-0.065H1V0.065H-1Z", "M-1,-0.065H1V0.065H-1Z M0.27,0A0.27,0.27,0,1,1,-0.27,0A0.27,0.27,0,1,1,0.27,0Z"]}, "legend": {"title": null, "orient": "none", "legendX": 347, "legendY": 152}}
         }}
      ]
    },
    {
      "width": 576, "height": 507,
      "title": {"text": ["37 °C RApH4 Vitamin C", "Degradation Curves (FD)"]},
      "transform": [{"filter": "datum.p == '37FD'"}],
      "encoding": {
        "x": {"field": "t", "type": "quantitative", "scale": {"domain": [-1.5, 25.5], "range": [150, 334], "nice": false, "zero": false}, "axis": {"values": [0, 6, 12, 18, 24], "title": "Time (months)", "offset": -117, "grid": false, "labelPadding": 19, "titlePadding": 17}},
        "y": {"field": "v", "type": "quantitative", "scale": {"domain": [0, 1.2], "range": [390, 144], "nice": false, "zero": false}, "axis": {"values": [0, 0.2, 0.4, 0.6, 0.8, 1, 1.2], "format": ".0%", "title": "Conc Ratio (%)", "offset": -150, "grid": true, "labelPadding": 23, "titlePadding": 7}}
      },
      "layer": [
        {"transform": [{"filter": "datum.s != 'Conc Ratio (%)'"}], "mark": {"type": "line", "strokeWidth": 3.5},
         "encoding": {"color": {"field": "s", "type": "nominal", "scale": {"domain": ["Conc Ratio (%)", "3,4 mo Pred", "6,8\u00a0 mo Pred", "9,12 mo Pred", "12,12 mo Pred", "Casymp Data"], "range": ["#5B9BD5", "#ED7D31", "#A5A5A5", "#FFC000", "#4472C4", "#70AD47"]}, "legend": {"title": null, "orient": "none", "legendX": 347, "legendY": 152}}}},
        {"transform": [{"filter": "datum.s == 'Casymp Data'"}], "mark": {"type": "point", "shape": "circle", "filled": true, "size": 225, "opacity": 1, "color": "#63A53C"}},
        {"transform": [{"filter": "isValid(datum.hi)"}], "mark": {"type": "rule", "color": "black", "strokeWidth": 1.2}, "encoding": {"y": {"field": "lo", "type": "quantitative"}, "y2": {"field": "hi"}}},
        {"transform": [{"filter": "isValid(datum.lo) && datum.lo > 0"}], "mark": {"type": "point", "shape": "stroke", "filled": false, "size": 100, "color": "black", "strokeWidth": 1.2, "opacity": 1}, "encoding": {"y": {"field": "lo", "type": "quantitative"}}},
        {"transform": [{"filter": "isValid(datum.hi)"}], "mark": {"type": "point", "shape": "stroke", "filled": false, "size": 100, "color": "black", "strokeWidth": 1.2, "opacity": 1}, "encoding": {"y": {"field": "hi", "type": "quantitative"}}},
        {"transform": [{"filter": "datum.s == 'Conc Ratio (%)'"}], "mark": {"type": "point", "filled": true, "size": 2704, "opacity": 1},
         "encoding": {
           "color": {"field": "s", "type": "nominal", "scale": {"domain": ["Conc Ratio (%)", "3,4 mo Pred", "6,8\u00a0 mo Pred", "9,12 mo Pred", "12,12 mo Pred", "Casymp Data"], "range": ["#5B9BD5", "#ED7D31", "#A5A5A5", "#FFC000", "#4472C4", "#70AD47"]}, "legend": {"title": null, "orient": "none", "legendX": 347, "legendY": 152}},
           "shape": {"field": "s", "type": "nominal", "scale": {"domain": ["Conc Ratio (%)", "3,4 mo Pred", "6,8\u00a0 mo Pred", "9,12 mo Pred", "12,12 mo Pred", "Casymp Data"], "range": ["M0,-0.27L0.27,0L0,0.27L-0.27,0Z", "M-1,-0.065H1V0.065H-1Z", "M-1,-0.065H1V0.065H-1Z", "M-1,-0.065H1V0.065H-1Z", "M-1,-0.065H1V0.065H-1Z", "M-1,-0.065H1V0.065H-1Z M0.27,0A0.27,0.27,0,1,1,-0.27,0A0.27,0.27,0,1,1,0.27,0Z"]}, "legend": {"title": null, "orient": "none", "legendX": 347, "legendY": 152}}
         }}
      ]
    }
  ],
  "config": {
    "font": "Lato",
    "view": {"stroke": "#a6a6a6", "strokeWidth": 1},
    "axis": {
      "domain": false, "ticks": false,
      "labelFont": "Lato", "labelFontSize": 21.5, "labelColor": "#595959",
      "titleFont": "Lato", "titleFontSize": 24, "titleColor": "#595959", "titleFontWeight": "normal",
      "gridColor": "#d9d9d9", "gridWidth": 1.3,
      "labelOverlap": false, "labelFlush": false, "labelBound": false
    },
    "legend": {
      "symbolSize": 2704, "symbolStrokeWidth": 0, "symbolOpacity": 1,
      "labelFont": "Lato", "labelFontSize": 24, "labelColor": "#000000", "labelOffset": 6, "labelLimit": 400,
      "rowPadding": 15.5, "padding": 0
    },
    "title": {
      "font": "Lato", "fontSize": 33.5, "fontWeight": "normal", "color": "#595959",
      "anchor": "middle", "frame": "group", "offset": -108, "lineHeight": 47
    }
  }
}
